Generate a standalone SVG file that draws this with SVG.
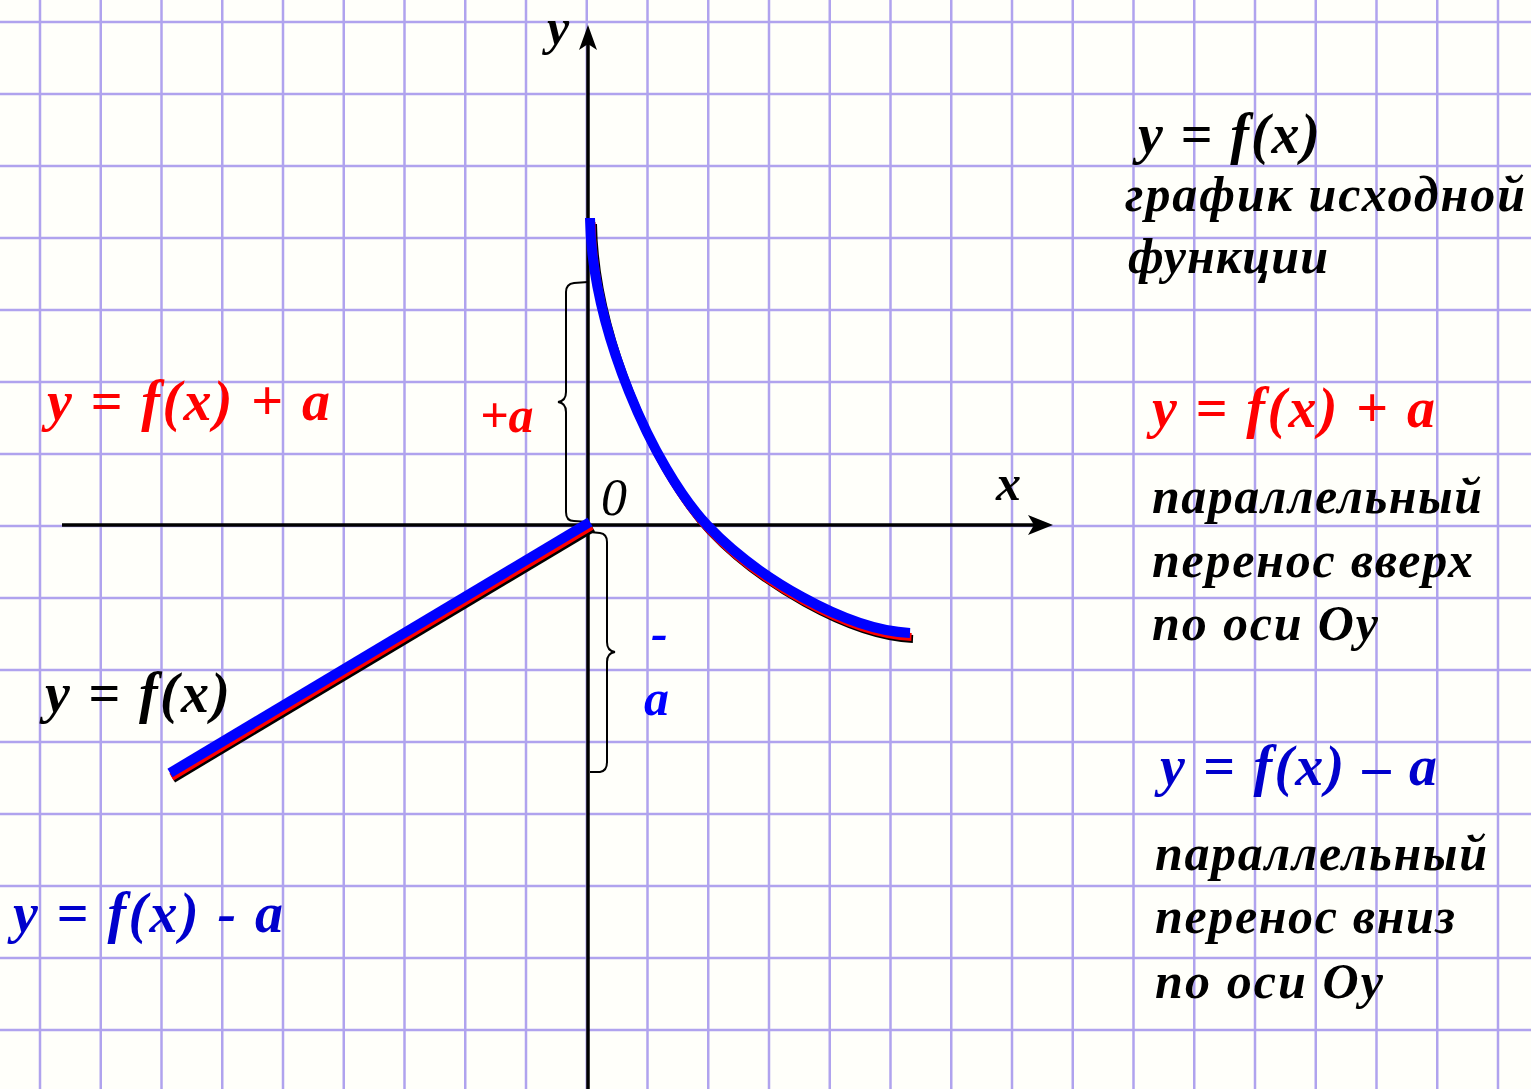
<svg xmlns="http://www.w3.org/2000/svg" width="1531" height="1089" viewBox="0 0 1531 1089">
<defs>
<style>
.grid line{stroke:#b0a3ee;stroke-width:2.5}
.t{font-family:"Liberation Serif","Times New Roman",serif;font-weight:bold;font-style:italic;font-size:50px}
.eq{font-size:56px}
.u{font-style:normal}
.blk{fill:#000}
.red{fill:#ff0000}
.blu{fill:#0000cc}
.axis{stroke:#000;stroke-width:3.5;fill:none}
.brace{stroke:#000;stroke-width:2;fill:none}
</style>
<linearGradient id="gl" x1="0" y1="0" x2="1" y2="0">
<stop offset="0" stop-color="#000" stop-opacity="0"/>
<stop offset="1" stop-color="#000"/>
</linearGradient>
<linearGradient id="gr" x1="0" y1="0" x2="1" y2="0">
<stop offset="0" stop-color="#000"/>
<stop offset="1" stop-color="#000" stop-opacity="0"/>
</linearGradient>
</defs>
<rect width="1531" height="1089" fill="#fffffa"/>
<g id="grid" class="grid">
<line x1="40" y1="0" x2="40" y2="1089"/><line x1="100.75" y1="0" x2="100.75" y2="1089"/><line x1="161.5" y1="0" x2="161.5" y2="1089"/><line x1="222.25" y1="0" x2="222.25" y2="1089"/><line x1="283" y1="0" x2="283" y2="1089"/><line x1="343.75" y1="0" x2="343.75" y2="1089"/><line x1="404.5" y1="0" x2="404.5" y2="1089"/><line x1="465.25" y1="0" x2="465.25" y2="1089"/><line x1="526" y1="0" x2="526" y2="1089"/><line x1="586.75" y1="0" x2="586.75" y2="1089"/><line x1="647.5" y1="0" x2="647.5" y2="1089"/><line x1="708.25" y1="0" x2="708.25" y2="1089"/><line x1="769" y1="0" x2="769" y2="1089"/><line x1="829.75" y1="0" x2="829.75" y2="1089"/><line x1="890.5" y1="0" x2="890.5" y2="1089"/><line x1="951.25" y1="0" x2="951.25" y2="1089"/><line x1="1012" y1="0" x2="1012" y2="1089"/><line x1="1072.75" y1="0" x2="1072.75" y2="1089"/><line x1="1133.5" y1="0" x2="1133.5" y2="1089"/><line x1="1194.25" y1="0" x2="1194.25" y2="1089"/><line x1="1255" y1="0" x2="1255" y2="1089"/><line x1="1315.75" y1="0" x2="1315.75" y2="1089"/><line x1="1376.5" y1="0" x2="1376.5" y2="1089"/><line x1="1437.25" y1="0" x2="1437.25" y2="1089"/><line x1="1498" y1="0" x2="1498" y2="1089"/>
<line x1="0" y1="22" x2="1531" y2="22"/><line x1="0" y1="94" x2="1531" y2="94"/><line x1="0" y1="166" x2="1531" y2="166"/><line x1="0" y1="238" x2="1531" y2="238"/><line x1="0" y1="310" x2="1531" y2="310"/><line x1="0" y1="382" x2="1531" y2="382"/><line x1="0" y1="454" x2="1531" y2="454"/><line x1="0" y1="526" x2="1531" y2="526"/><line x1="0" y1="598" x2="1531" y2="598"/><line x1="0" y1="670" x2="1531" y2="670"/><line x1="0" y1="742" x2="1531" y2="742"/><line x1="0" y1="814" x2="1531" y2="814"/><line x1="0" y1="886" x2="1531" y2="886"/><line x1="0" y1="958" x2="1531" y2="958"/><line x1="0" y1="1030" x2="1531" y2="1030"/>
</g>
<g id="axes">
<line class="axis" x1="62" y1="525" x2="1040" y2="525"/>
<path d="M1053,525 L1028,515 L1034,525 L1028,535 Z" fill="#000"/>
<line class="axis" x1="588" y1="1089" x2="588" y2="38"/>
<path d="M588,25 L579,50 L588,44 L597,50 Z" fill="#000"/>
<text class="t blk" x="547" y="44" font-size="54">y</text>
<text class="t blk" x="996" y="500" font-size="58">x</text>
<text x="601" y="515" font-family="Liberation Serif, serif" font-style="italic" font-size="52" fill="#000">0</text>
</g>
<g id="connectors">
<g id="brace-up">
<path class="brace" d="M588,282 L574,283 Q566,284 566,292 L566,392 Q566,401 558,402 Q566,403 566,412 L566,512 Q566,521 574,521 L588,522"/>
<line x1="455" y1="402" x2="559" y2="402" stroke="url(#gl)" stroke-width="1.5"/>
</g>
<g id="brace-down">
<path class="brace" d="M590,532 L600,533 Q607,534 607,542 L607,642 Q607,651 615,652 Q607,653 607,662 L607,762 Q607,771 600,772 L590,772"/>
<line x1="614" y1="652" x2="706" y2="652" stroke="url(#gr)" stroke-width="1.5"/>
</g>
</g>
<g id="graph-black" transform="translate(3,6)">
<line x1="170" y1="773" x2="590" y2="522" stroke="#000" stroke-width="8"/>
<path d="M590,218 C592,330 653,467 707,525 C755,576 845,630 910,633" stroke="#000" stroke-width="8" fill="none"/>
</g>
<g id="graph-red" transform="translate(1.5,4)">
<line x1="170" y1="773" x2="590" y2="522" stroke="#ff0000" stroke-width="8"/>
<path d="M590,218 C592,330 653,467 707,525 C755,576 845,630 910,633" stroke="#ff0000" stroke-width="8" fill="none"/>
</g>
<g id="graph-blue">
<line x1="170" y1="773" x2="590" y2="522" stroke="#0000ff" stroke-width="10"/>
<path d="M590,218 C592,330 653,467 707,525 C755,576 845,630 910,633" stroke="#0000ff" stroke-width="10" fill="none"/>
</g>
<g id="labels-shift">
<text class="t red" x="480" y="432" font-size="54">+a</text>
<text class="t" x="651" y="650" fill="#0000ff" font-size="54">-</text>
<text class="t" x="644" y="715" fill="#0000ff" font-size="54">a</text>
</g>
<g id="left-labels">
<text class="t eq red" x="47" y="420" textLength="283">y <tspan class="u">=</tspan> f(x) <tspan class="u">+</tspan> a</text>
<text class="t eq blk" x="45" y="712" textLength="185">y <tspan class="u">=</tspan> f(x)</text>
<text class="t eq blu" x="13" y="932" textLength="270">y <tspan class="u">=</tspan> f(x) - a</text>
</g>
<g id="legend-original">
<text class="t eq blk" x="1138" y="153" textLength="182">y <tspan class="u">=</tspan> f(x)</text>
<text class="t blk" x="1125" y="211" textLength="400">график исходной</text>
<text class="t blk" x="1128" y="273" textLength="200">функции</text>
</g>
<g id="legend-up">
<text class="t eq red" x="1152" y="427" textLength="283">y <tspan class="u">=</tspan> f(x) <tspan class="u">+</tspan> a</text>
<text class="t blk" x="1152" y="513" textLength="330">параллельный</text>
<text class="t blk" x="1152" y="577" textLength="321">перенос вверх</text>
<text class="t blk" x="1152" y="640" textLength="226">по оси Оу</text>
</g>
<g id="legend-down">
<text class="t eq blu" x="1160" y="785" textLength="277">y <tspan class="u">=</tspan> f(x) <tspan class="u">–</tspan> a</text>
<text class="t blk" x="1155" y="870" textLength="332">параллельный</text>
<text class="t blk" x="1155" y="933" textLength="300">перенос вниз</text>
<text class="t blk" x="1155" y="998" textLength="228">по оси Оу</text>
</g>
</svg>
